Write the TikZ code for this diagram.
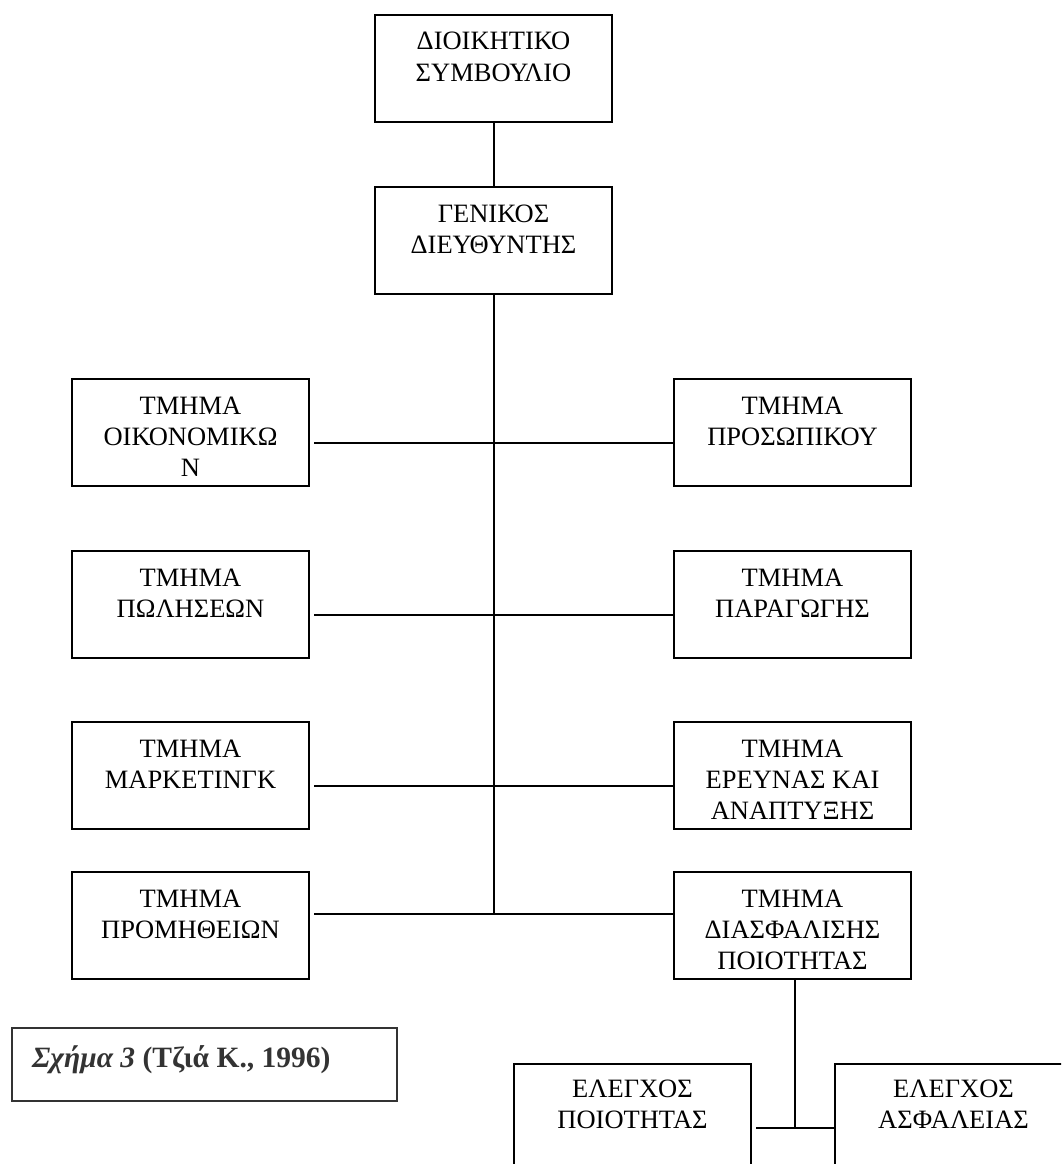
\documentclass[tikz,border=0pt]{standalone}
\usepackage{fontspec}
\setmainfont{Liberation Serif}
\definecolor{capgray}{HTML}{333333}
% text of an org-chart box: top-aligned, centred lines
\newcommand{\orgtext}[1]{\parbox[c][107pt][t]{237pt}{\centering\rule{0pt}{35pt}#1}}
\tikzset{
  orgbox/.style={draw, line width=2pt, inner sep=0pt, outer sep=0pt,
    anchor=north west, font=\fontsize{26.5}{31}\selectfont},
  link/.style={line width=2pt},
}
\begin{document}
\begin{tikzpicture}[x=1pt,y=-1pt]
\clip (0,0) rectangle (1061,1164);
\fill[white] (0,0) rectangle (1061,1164);

% top of the hierarchy
\node[orgbox] (board) at (375,15)  {\orgtext{ΔΙΟΙΚΗΤΙΚΟ\\ΣΥΜΒΟΥΛΙΟ}};
\node[orgbox] (gm)    at (375,187) {\orgtext{ΓΕΝΙΚΟΣ\\ΔΙΕΥΘΥΝΤΗΣ}};

% departments
\node[orgbox] (fin)   at (72,379)  {\orgtext{ΤΜΗΜΑ\\ΟΙΚΟΝΟΜΙΚΩ\\Ν}};
\node[orgbox] (hr)    at (674,379) {\orgtext{ΤΜΗΜΑ\\ΠΡΟΣΩΠΙΚΟΥ}};
\node[orgbox] (sales) at (72,551)  {\orgtext{ΤΜΗΜΑ\\ΠΩΛΗΣΕΩΝ}};
\node[orgbox] (prod)  at (674,551) {\orgtext{ΤΜΗΜΑ\\ΠΑΡΑΓΩΓΗΣ}};
\node[orgbox] (mkt)   at (72,722)  {\orgtext{ΤΜΗΜΑ\\ΜΑΡΚΕΤΙΝΓΚ}};
\node[orgbox] (rd)    at (674,722) {\orgtext{ΤΜΗΜΑ\\ΕΡΕΥΝΑΣ ΚΑΙ\\ΑΝΑΠΤΥΞΗΣ}};
\node[orgbox] (proc)  at (72,872)  {\orgtext{ΤΜΗΜΑ\\ΠΡΟΜΗΘΕΙΩΝ}};
\node[orgbox] (qa)    at (674,872) {\orgtext{ΤΜΗΜΑ\\ΔΙΑΣΦΑΛΙΣΗΣ\\ΠΟΙΟΤΗΤΑΣ}};

% quality sub-units
\node[orgbox] (qc)     at (514,1064) {\parbox[c][107pt][t]{237pt}{\centering\rule{0pt}{33pt}ΕΛΕΓΧΟΣ\\ΠΟΙΟΤΗΤΑΣ}};
\node[orgbox] (safety) at (835,1064) {\parbox[c][107pt][t]{237pt}{\centering\rule{0pt}{33pt}ΕΛΕΓΧΟΣ\\ΑΣΦΑΛΕΙΑΣ}};

% caption
\node[draw=capgray, line width=2pt, fill=white, inner sep=0pt, outer sep=0pt,
  anchor=north west, minimum width=385pt, minimum height=73pt] (capbox) at (12,1028) {};
\node[anchor=base west, inner sep=0pt, text=capgray,
  font=\fontsize{29.5}{34}\selectfont\bfseries] (captext) at (32,1067)
  {\textit{Σχήμα 3} (Τζιά Κ., 1996)};

% junctions on the trunk below the general manager
\coordinate (j1) at (gm.south |- 0,443);
\coordinate (j2) at (gm.south |- 0,615);
\coordinate (j3) at (gm.south |- 0,786);
\coordinate (j4) at (gm.south |- 0,914);
\coordinate (j5) at (795,1128);

\draw[link] (board.south) -- (gm.north);
\draw[link] (gm.south) -- (j4);
\draw[link] ([xshift=5pt]fin.east |- j1)   -- (hr.west |- j1);
\draw[link] ([xshift=5pt]sales.east |- j2) -- (prod.west |- j2);
\draw[link] ([xshift=5pt]mkt.east |- j3)   -- (rd.west |- j3);
\draw[link] ([xshift=5pt]proc.east |- j4)  -- (qa.west |- j4);
\draw[link] (qa.south -| j5) -- (j5);
\draw[link] ([xshift=5pt]qc.east |- j5) -- (safety.west |- j5);
\end{tikzpicture}
\end{document}
